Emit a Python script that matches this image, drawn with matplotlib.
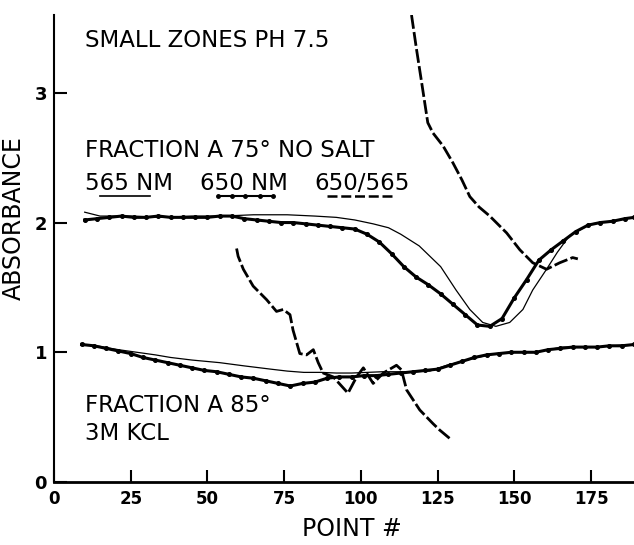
import matplotlib
matplotlib.use("Agg")
import matplotlib.pyplot as plt

# --- data ---
# Fraction A 75 deg, no salt
up565_x = [10, 15, 25, 35, 45, 55, 65, 76, 85, 92, 98, 104, 109, 113, 119, 126, 131,
           135.5, 139.7, 144, 148.5, 152.8, 156, 160.5, 164, 168, 175, 182, 189]
up565_y = [2.08, 2.05, 2.05, 2.04, 2.05, 2.05, 2.06, 2.06, 2.05, 2.04, 2.02, 1.99, 1.96,
           1.91, 1.82, 1.66, 1.48, 1.33, 1.23, 1.20, 1.23, 1.33, 1.48, 1.64, 1.77, 1.90,
           1.99, 2.01, 2.04]

up650_x = [10, 14, 18, 22, 26, 30, 34, 38, 42, 46, 50, 54, 58, 62, 66, 70, 74, 78, 82,
           86, 90, 94, 98, 102, 106, 110, 114, 118, 122, 126, 130, 134, 138, 142, 146,
           150, 154, 158, 162, 166, 170, 174, 178, 182, 186, 189]
up650_y = [2.02, 2.03, 2.04, 2.05, 2.04, 2.04, 2.05, 2.04, 2.04, 2.04, 2.04, 2.05, 2.05,
           2.03, 2.02, 2.01, 2.00, 2.00, 1.99, 1.98, 1.97, 1.96, 1.95, 1.91, 1.85, 1.76,
           1.66, 1.58, 1.52, 1.45, 1.37, 1.29, 1.21, 1.20, 1.26, 1.42, 1.56, 1.71, 1.79,
           1.86, 1.93, 1.98, 2.00, 2.01, 2.03, 2.04]

upratio_x = [116.5, 118.1, 119.8, 121.8, 123.5, 126.8, 130, 132.9, 135.5, 138.5, 142,
             147.5, 151.8, 156, 160.5, 164.8, 169, 170.7]
upratio_y = [3.6, 3.34, 3.08, 2.77, 2.69, 2.59, 2.46, 2.33, 2.2, 2.12, 2.05, 1.92, 1.79,
             1.69, 1.64, 1.69, 1.73, 1.72]

# Fraction A 85 deg, 3M KCl
lo565_x = [9, 15, 21, 27, 33, 38, 45, 54, 62, 70.6, 76, 81.4, 87, 92, 97, 102, 107, 112,
           117, 122.5, 128, 133, 138, 144, 150, 157, 161, 165.8, 171, 177, 182, 189]
lo565_y = [1.06, 1.045, 1.02, 1.00, 0.98, 0.96, 0.94, 0.92, 0.895, 0.87, 0.855, 0.845,
           0.845, 0.84, 0.84, 0.845, 0.85, 0.85, 0.85, 0.855, 0.90, 0.93, 0.96, 0.99, 1.0,
           1.0, 1.02, 1.04, 1.04, 1.04, 1.05, 1.06]

lo650_x = [9, 13, 17, 21, 25, 29, 33, 37, 41, 45, 49, 53, 57, 61, 65, 69, 73, 77, 81, 85,
           89, 93, 97, 101, 105, 109, 113, 117, 121, 125, 129, 133, 137, 141, 145, 149,
           153, 157, 161, 165, 169, 173, 177, 181, 185, 189]
lo650_y = [1.06, 1.05, 1.03, 1.01, 0.99, 0.96, 0.94, 0.92, 0.90, 0.88, 0.86, 0.85, 0.83,
           0.81, 0.80, 0.78, 0.76, 0.74, 0.76, 0.77, 0.80, 0.81, 0.81, 0.82, 0.82, 0.83,
           0.84, 0.85, 0.86, 0.87, 0.90, 0.93, 0.96, 0.98, 0.99, 1.0, 1.0, 1.0, 1.02, 1.03,
           1.04, 1.04, 1.04, 1.05, 1.05, 1.06]

loratio_x = [59.5, 60, 61.7, 64.9, 69.3, 72.5, 74.7, 76.9, 77.9, 80.1, 82.3, 84.5, 86.1,
             87.7, 91, 95.8, 98.6, 100.8, 104, 107.3, 111.6, 113.2, 114.9, 119.2, 123.5,
             125.7, 129.5]
loratio_y = [1.80, 1.74, 1.64, 1.51, 1.405, 1.315, 1.33, 1.29, 1.17, 0.99, 0.98, 1.02,
             0.92, 0.84, 0.81, 0.685, 0.81, 0.88, 0.76, 0.84, 0.90, 0.865, 0.71, 0.555,
             0.45, 0.40, 0.325]

xticks = [0, 25, 50, 75, 100, 125, 150, 175]
yticks = [0, 1, 2, 3]

thin = dict(color="black", lw=0.9)
thick = dict(color="black", lw=2.2, marker="o", ms=2.6)
dash = dict(color="black", lw=2.0, dashes=(5, 1.2))

fig = plt.figure(figsize=(6.34, 5.45), dpi=100)
ax = fig.add_axes([54 / 634, 63 / 545, 580 / 634, 467 / 545])

ax.plot(up565_x, up565_y, **thin)
ax.plot(up650_x, up650_y, **thick)
ax.plot(upratio_x, upratio_y, **dash)
ax.plot(lo565_x, lo565_y, **thin)
ax.plot(lo650_x, lo650_y, **thick)
ax.plot(loratio_x, loratio_y, **dash)

ax.set_xlim(0, 189)
ax.set_ylim(0, 3.6)
for s in ["top", "right"]:
    ax.spines[s].set_visible(False)
ax.spines["left"].set_linewidth(1.5)
ax.spines["bottom"].set_linewidth(2.0)

ax.set_xticks(xticks)
ax.set_yticks(yticks)
ax.tick_params(axis="both", direction="in", length=9, width=1.5)
ax.tick_params(axis="x", labelsize=12, pad=6)
ax.tick_params(axis="y", labelsize=13, pad=5)
for lab in ax.get_xticklabels() + ax.get_yticklabels():
    lab.set_fontweight("bold")

fs = 16.5
ax.text(10.1, 3.354, "SMALL ZONES PH 7.5", fontsize=fs, va="baseline")
ax.text(10.1, 2.505, "FRACTION A 75° NO SALT", fontsize=fs, va="baseline")
ax.text(10.1, 2.251, "565 NM", fontsize=fs, va="baseline")
ax.text(47.6, 2.251, "650 NM", fontsize=fs, va="baseline")
ax.text(85.0, 2.251, "650/565", fontsize=fs, va="baseline")
ax.text(10.1, 0.54, "FRACTION A 85°", fontsize=fs, va="baseline")
ax.text(10.1, 0.324, "3M KCL", fontsize=fs, va="baseline")

# legend samples under the wavelength labels
ax.plot([15, 31.3], [2.205, 2.205], color="black", lw=1.2)
ax.plot([53.4, 58, 62.4, 67, 71.3], [2.205] * 5, color="black", lw=1.5, marker="o", ms=2.5)
ax.plot([89, 110.4], [2.205, 2.205], color="black", lw=1.8, dashes=(4, 1.5))

fig.text(14 / 634, 1 - 218 / 545, "ABSORBANCE", rotation=90, fontsize=17,
         ha="center", va="center")
fig.text(352 / 634, 1 - 529 / 545, "POINT #", fontsize=17, ha="center", va="center")

fig.savefig("out.png", dpi=100)
